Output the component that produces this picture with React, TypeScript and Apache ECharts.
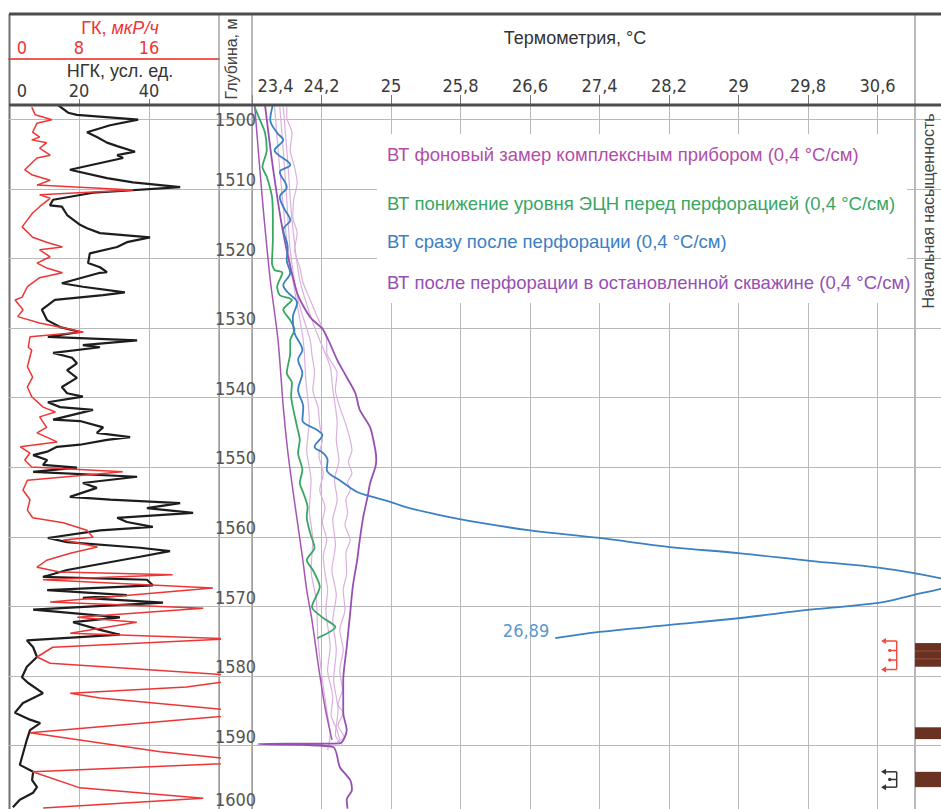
import React, { useEffect, useRef } from "react";
import * as echarts from "echarts";

// ---------- axes ----------
const DEPTH_TOP = 1497.99;
const DEPTH_BOTTOM = 1599.14;
const DEPTH_GRID = [1500, 1510, 1520, 1530, 1540, 1550, 1560, 1570, 1580, 1590];
const DEPTH_TICK_LABELS = [1500, 1510, 1520, 1530, 1540, 1550, 1560, 1570, 1580, 1590, 1600];
const NGK_MIN = 0, NGK_MAX = 60, NGK_STEP = 20;
const GK_MIN = 0, GK_MAX = 24, GK_STEP = 8;
const T_MIN = 23.4, T_MAX = 31.33, T_STEP = 0.8;

// ---------- legend / names ----------
const NAME_BG = "ВТ фоновый замер комплексным прибором (0,4 °C/см)";
const NAME_LOW = "ВТ понижение уровня ЭЦН перед перфорацией (0,4 °C/см)";
const NAME_AFTER = "ВТ сразу после перфорации (0,4 °C/см)";
const NAME_STOP = "ВТ после перфорации в остановленной скважине (0,4 °C/см)";

// ---------- logs: [depth, value] ----------
const NGK = [[1498.0,14.0],[1499.1,16.9],[1499.4,19.4],[1500.1,36.9],[1500.9,28.9],[1501.9,22.3],[1502.6,25.1],[1503.4,28.0],[1503.9,30.9],[1504.7,36.0],[1505.2,30.9],[1505.6,32.6],[1507.3,17.4],[1508.5,28.0],[1509.1,35.4],[1509.8,48.9],[1510.6,24.0],[1511.6,12.6],[1512.4,11.7],[1512.6,15.1],[1513.8,16.6],[1515.2,20.3],[1515.7,22.3],[1516.4,26.0],[1517.0,40.3],[1517.7,33.7],[1518.4,30.9],[1519.3,23.1],[1520.7,22.6],[1521.3,26.0],[1522.0,28.0],[1522.1,26.0],[1523.6,15.1],[1524.1,21.1],[1524.9,33.1],[1525.3,26.9],[1526.0,13.1],[1527.4,9.4],[1528.9,10.9],[1529.9,14.6],[1530.6,20.3],[1531.3,11.1],[1531.8,36.6],[1532.5,21.1],[1532.8,26.0],[1533.6,12.6],[1534.3,18.0],[1535.1,19.4],[1536.1,16.6],[1537.2,19.4],[1538.5,15.1],[1539.4,16.6],[1539.9,21.1],[1540.7,11.1],[1541.4,14.6],[1541.8,24.0],[1543.2,12.6],[1543.4,20.3],[1544.3,26.9],[1545.1,25.1],[1545.7,34.6],[1546.1,28.0],[1546.8,20.3],[1547.1,13.7],[1547.8,10.9],[1548.3,6.9],[1549.0,10.9],[1549.7,9.7],[1550.1,19.4],[1550.7,6.9],[1551.4,36.6],[1552.3,21.1],[1553.0,25.1],[1554.3,17.4],[1554.7,28.9],[1555.2,48.9],[1555.9,39.4],[1556.6,52.6],[1557.3,30.9],[1557.9,33.7],[1558.6,41.1],[1559.1,26.0],[1560.2,11.1],[1560.8,16.6],[1561.6,37.4],[1562.1,46.0],[1562.9,37.4],[1564.8,16.6],[1565.8,9.7],[1566.2,39.4],[1567.0,41.1],[1567.7,10.9],[1568.4,33.7],[1568.8,21.1],[1569.5,44.0],[1570.5,6.9],[1571.6,31.7],[1572.3,18.3],[1573.4,26.0],[1574.1,31.7],[1574.9,5.1],[1575.9,6.9],[1577.3,8.0],[1578.7,5.1],[1580.2,3.7],[1581.0,5.4],[1582.5,9.7],[1583.9,4.0],[1585.3,1.7],[1586.3,6.0],[1586.8,8.9],[1587.8,6.0],[1589.2,5.1],[1591.7,3.7],[1592.8,3.1],[1593.8,6.9],[1595.0,6.6],[1596.0,8.0],[1596.8,6.9],[1597.8,3.1],[1598.9,1.1]];

const GK = [[1498.3,2.6],[1499.4,3.0],[1500.1,4.9],[1500.6,3.2],[1501.9,2.7],[1502.6,3.5],[1503.0,2.6],[1503.4,4.3],[1504.2,3.5],[1505.2,4.7],[1505.6,3.2],[1507.3,1.8],[1508.0,2.6],[1508.8,4.7],[1509.5,3.2],[1510.2,14.2],[1510.9,3.5],[1511.4,4.7],[1512.6,3.5],[1513.5,2.7],[1514.5,2.1],[1515.5,1.5],[1517.0,2.7],[1517.7,4.3],[1518.4,6.1],[1518.8,3.5],[1519.8,4.7],[1520.7,3.2],[1521.4,4.3],[1522.1,6.1],[1522.8,3.5],[1524.1,2.1],[1525.6,1.5],[1526.0,0.7],[1527.4,1.6],[1528.4,1.0],[1529.3,3.5],[1530.6,8.5],[1531.3,2.4],[1532.8,2.2],[1533.2,2.6],[1535.6,2.1],[1537.1,2.7],[1538.5,2.1],[1539.9,2.6],[1541.4,3.9],[1542.1,5.3],[1542.8,3.5],[1544.3,4.3],[1545.1,3.2],[1546.4,5.5],[1547.1,1.3],[1548.0,2.4],[1549.0,1.8],[1550.0,2.6],[1550.7,13.0],[1551.9,2.1],[1553.3,1.6],[1554.7,2.4],[1556.2,2.1],[1557.3,2.7],[1558.0,6.2],[1559.1,8.9],[1560.1,9.6],[1560.5,6.2],[1561.5,10.1],[1562.4,7.0],[1563.4,4.3],[1564.4,3.2],[1565.1,5.8],[1565.5,18.7],[1566.2,3.9],[1567.4,23.3],[1569.4,4.7],[1570.3,22.2],[1571.6,7.8],[1572.3,14.6],[1573.9,7.0],[1574.7,25.3],[1575.9,5.0],[1577.3,3.2],[1578.2,4.7],[1580.2,28.7],[1581.6,20.3],[1582.5,7.0],[1583.2,10.4],[1585.3,28.3],[1585.9,23.8],[1588.2,2.4],[1590.9,17.3],[1592.4,28.7],[1593.8,2.7],[1596.1,8.1],[1597.6,22.2],[1599.0,3.9]];

// ---------- temperature: [depth, °C] ----------
const T_BG_A = [[1498.0,23.43],[1511.6,23.52],[1523.1,23.61],[1531.8,23.70],[1541.4,23.76],[1547.6,23.81],[1553.3,23.87],[1562.9,23.98],[1567.7,24.03],[1572.0,24.09],[1578.2,24.16],[1584.5,24.24],[1589.2,24.32]];
const T_BG_1 = [[1498.3,23.80],[1499.7,23.80],[1502.0,23.86],[1504.5,23.84],[1506.9,23.89],[1509.2,23.92],[1511.6,23.88],[1514.1,23.87],[1516.4,23.92],[1518.8,23.89],[1521.3,23.95],[1523.6,23.99],[1526.0,24.07],[1528.4,24.15],[1531.8,24.26],[1533.6,24.26],[1536.5,24.38],[1538.9,24.36],[1541.4,24.41],[1542.8,24.45],[1544.3,24.49],[1546.1,24.53],[1547.6,24.55],[1549.3,24.51],[1550.9,24.55],[1552.2,24.50],[1553.3,24.53],[1554.7,24.48],[1556.6,24.50],[1558.3,24.47],[1560.5,24.53],[1562.4,24.48],[1565.2,24.49],[1567.7,24.45],[1570.5,24.47],[1573.4,24.41],[1576.3,24.45],[1579.2,24.41],[1582.0,24.44],[1584.2,24.39],[1585.3,24.45],[1587.1,24.39],[1588.8,24.46],[1589.5,24.38]];
const T_BG_2 = [[1498.3,23.72],[1504.5,23.76],[1511.6,23.80],[1518.8,23.84],[1526.0,23.93],[1531.8,24.07],[1533.9,24.09],[1536.5,24.12],[1538.9,24.10],[1541.4,24.16],[1544.0,24.18],[1546.1,24.21],[1548.3,24.17],[1550.9,24.22],[1553.3,24.18],[1555.8,24.24],[1557.9,24.21],[1560.5,24.26],[1562.9,24.22],[1565.2,24.24],[1567.7,24.27],[1570.5,24.25],[1575.9,24.30],[1579.2,24.27],[1583.1,24.33],[1585.6,24.31],[1587.5,24.37],[1589.2,24.41]];
const T_BG_3 = [[1498.3,23.76],[1505.9,23.81],[1514.5,23.86],[1523.1,23.95],[1528.9,24.09],[1531.8,24.18],[1535.6,24.30],[1538.9,24.33],[1543.7,24.38],[1546.1,24.37],[1549.0,24.40],[1551.9,24.35],[1554.7,24.38],[1557.6,24.33],[1561.2,24.36],[1564.8,24.32],[1568.4,24.37],[1572.0,24.33],[1576.3,24.37],[1580.6,24.34],[1584.9,24.39],[1588.5,24.36],[1589.9,24.44]];
const T_BG_4 = [[1498.3,23.66],[1507.3,23.72],[1517.4,23.80],[1524.6,23.89],[1531.8,23.99],[1537.5,24.02],[1543.2,24.06],[1547.6,24.03],[1551.9,24.08],[1556.2,24.06],[1560.5,24.10],[1564.8,24.08],[1569.1,24.14],[1574.9,24.16],[1580.6,24.21],[1584.9,24.26],[1588.5,24.30],[1590.7,24.27]];
const T_STOP = [[1498.0,23.55],[1506.9,23.64],[1516.4,23.76],[1525.0,23.92],[1528.5,24.07],[1530.3,24.22],[1534.6,24.38],[1537.1,24.49],[1539.4,24.59],[1541.8,24.64],[1544.3,24.76],[1547.6,24.82],[1549.0,24.83],[1550.0,24.82],[1552.3,24.76],[1554.3,24.73],[1557.2,24.68],[1560.5,24.64],[1563.4,24.61],[1567.2,24.56],[1571.0,24.53],[1575.9,24.49],[1580.6,24.45],[1585.3,24.45],[1587.8,24.49],[1589.7,24.41],[1589.8,23.47],[1590.2,24.33],[1593.1,24.41],[1595.0,24.53],[1596.4,24.55],[1597.8,24.49],[1599.1,24.50]];
const T_LOW = [[1498.3,23.43],[1500.1,23.49],[1502.0,23.55],[1504.5,23.57],[1506.9,23.52],[1508.3,23.57],[1511.2,23.63],[1514.1,23.64],[1517.4,23.64],[1520.7,23.63],[1521.7,23.66],[1522.1,23.75],[1524.1,23.69],[1525.3,23.72],[1526.0,23.86],[1527.4,23.76],[1528.9,23.84],[1530.3,23.89],[1531.8,23.84],[1533.6,23.84],[1536.5,23.80],[1537.9,23.86],[1539.8,23.85],[1541.4,23.87],[1544.3,23.92],[1546.1,23.95],[1548.0,23.93],[1550.4,23.98],[1552.3,23.95],[1553.7,23.99],[1555.8,24.04],[1557.2,24.03],[1559.5,24.07],[1561.6,24.12],[1563.4,24.03],[1564.8,24.10],[1567.2,24.18],[1570.1,24.09],[1571.6,24.21],[1573.0,24.36],[1574.6,24.15]];
const T_AFTER = [[1498.0,23.64],[1500.1,23.61],[1502.0,23.69],[1503.0,23.76],[1504.5,23.66],[1506.6,23.84],[1507.6,23.72],[1509.8,23.80],[1511.2,23.72],[1513.1,23.78],[1514.5,23.84],[1515.9,23.76],[1518.4,23.81],[1520.3,23.80],[1522.1,23.84],[1523.9,23.76],[1524.9,23.81],[1526.4,23.92],[1528.5,23.87],[1530.8,23.89],[1533.2,23.98],[1534.6,23.93],[1536.5,23.98],[1538.9,23.93],[1541.4,23.99],[1543.3,23.98],[1544.7,24.15],[1545.4,24.21],[1547.1,24.12],[1548.0,24.22],[1549.0,24.27],[1550.4,24.26],[1551.9,24.41],[1553.6,24.61],[1554.3,24.79],[1555.0,24.99],[1555.8,25.18],[1556.9,25.56],[1558.0,26.02],[1559.1,26.60],[1560.2,27.40],[1561.5,28.21],[1562.4,29.02],[1563.5,29.82],[1564.5,30.63],[1566.0,31.33],[1566.8,31.52],[1567.5,31.33],[1568.4,31.01],[1569.5,30.63],[1570.5,29.82],[1571.7,29.02],[1572.7,28.21],[1573.7,27.40],[1574.6,26.89]];
const T_AFTER_END = [26.89, 1574.6];

// ---------- perforation & saturation intervals: [top, bottom] ----------
const PERF_INTERVALS = [[1575.0, 1579.1], [1593.8, 1596.0]];
const SAT_INTERVALS = [[1575.3, 1578.7], [1587.4, 1589.1], [1593.8, 1596.0]];

// ---------- styles ----------
const F_NARROW = "'Liberation Sans Narrow','Arial Narrow','DejaVu Sans Condensed',sans-serif";
const F_TEXT = "'Liberation Sans',Arial,sans-serif";
const C_GRID = "#b9b9b9";
const C_BORDER = "#8a8a8a";
const C_RED = "#ee3535";
const C_BG = "#b14fa7";
const C_LIGHT = "#dbb0de";
const C_LOW = "#38a763";
const C_AFTER = "#3b80c3";
const C_STOP = "#9650b3";
const PERF_COLORS = ["#f04b3f", "#333333"];

const toXY = (arr: number[][]) => arr.map(([d, v]) => [v, d]);
const fmtTemp = (v: number) => {
  let s = (Math.round(v * 100) / 100).toFixed(2);
  if (s.endsWith("0")) s = s.slice(0, -1);
  if (s.endsWith(".0")) s = s.slice(0, -2);
  return s.replace(".", ",");
};

function text(t: string, x: number, y: number, o: any = {}) {
  return {
    type: "text",
    x,
    y,
    z: o.z ?? 11,
    rotation: o.rotation || 0,
    style: {
      text: t,
      fill: o.fill || "#3c3c3c",
      fontSize: o.size || 18,
      fontFamily: o.family || F_TEXT,
      lineHeight: o.lineHeight || (o.size || 18),
      align: o.align || "center",
      verticalAlign: "middle",
      textAlign: o.align || "center",
      textVerticalAlign: "middle",
      rich: o.rich,
    },
  };
}
function vline(x: number, y1: number, y2: number, color: string, w: number, z = 1) {
  return { type: "line", z, silent: true, shape: { x1: x, y1, x2: x, y2 }, style: { stroke: color, lineWidth: w } };
}
function hline(y: number, x1: number, x2: number, color: string, w: number, z = 1) {
  return { type: "line", z, silent: true, shape: { x1, y1: y, x2, y2: y }, style: { stroke: color, lineWidth: w } };
}

function buildOption(): any {
  const yAxis = [0, 1, 2, 3].map((g) => ({
    gridIndex: g, type: "value", inverse: true, min: DEPTH_TOP, max: DEPTH_BOTTOM, show: false,
  }));
  const grid = [
    { left: 9, top: 105, width: 210, height: 704 },
    { left: 219, top: 105, width: 33, height: 704 },
    { left: 252, top: 105, width: 689, height: 704 },
    { left: 915, top: 105, width: 26, height: 704 },
  ].map((g) => ({ ...g, containLabel: false, outerBoundsMode: "none" }));

  const lblBase = { fontSize: 18, fontFamily: F_NARROW, lineHeight: 16 };
  const xAxis = [
    {
      gridIndex: 0, type: "value", min: NGK_MIN, max: NGK_MAX, interval: NGK_STEP, position: "top",
      axisLine: { show: false },
      axisTick: { show: true, length: 6, lineStyle: { color: "#777" } },
      axisLabel: {
        ...lblBase, color: "#3a3a3a", margin: 7, showMinLabel: true, showMaxLabel: false,
        formatter: (v: number, i: number) => (i === 0 ? `{f|${v}}` : String(v)),
        rich: { f: { ...lblBase, color: "#3a3a3a", padding: [0, 0, 0, 26] } },
      },
      splitLine: { show: true, lineStyle: { color: C_GRID, width: 1 } },
    },
    {
      gridIndex: 0, type: "value", min: GK_MIN, max: GK_MAX, interval: GK_STEP, position: "top", offset: 46,
      axisLine: { show: true, lineStyle: { color: "#f25a55", width: 2 } },
      axisTick: { show: false },
      axisLabel: {
        ...lblBase, color: C_RED, margin: 4, showMinLabel: true, showMaxLabel: false,
        formatter: (v: number, i: number) => (i === 0 ? `{f|${v}}` : String(v)),
        rich: { f: { ...lblBase, color: C_RED, padding: [0, 0, 0, 26] } },
      },
      splitLine: { show: false },
    },
    { gridIndex: 1, type: "value", min: 0, max: 1, show: false },
    {
      gridIndex: 2, type: "value", min: T_MIN, max: T_MAX, interval: T_STEP, position: "top",
      axisLine: { show: false },
      axisTick: { show: true, length: 10, lineStyle: { color: "#777" } },
      axisLabel: {
        ...lblBase, color: "#3a3a3a", margin: 12, showMinLabel: true, showMaxLabel: false,
        formatter: (v: number, i: number) => (i === 0 ? `{f|${fmtTemp(v)}}` : fmtTemp(v)),
        rich: { f: { ...lblBase, color: "#3a3a3a", padding: [0, 0, 0, 47] } },
      },
      splitLine: { show: true, lineStyle: { color: C_GRID, width: 1 } },
    },
    { gridIndex: 3, type: "value", min: 0, max: 1, show: false },
  ];

  const tLine = (name: string, data: number[][], color: string, width: number, extra: any = {}) => ({
    type: "line", name, xAxisIndex: 3, yAxisIndex: 2, data: toXY(data),
    showSymbol: false, symbol: "none", smooth: 0.25, silent: true,
    lineStyle: { color, width }, itemStyle: { color }, ...extra,
  });

  const series: any[] = [
    // horizontal depth grid lines across all tracks
    {
      type: "custom", xAxisIndex: 0, yAxisIndex: 0, z: 1, silent: true,
      data: DEPTH_GRID.map((d) => [0, d]),
      renderItem: (params: any, api: any) => {
        const y = Math.round(api.coord([0, api.value(1)])[1]) + 0.5;
        return { type: "line", shape: { x1: 9, y1: y, x2: api.getWidth(), y2: y }, style: { stroke: C_GRID, lineWidth: 1 } };
      },
    },
    {
      type: "line", name: "НГК", xAxisIndex: 0, yAxisIndex: 0, data: toXY(NGK),
      showSymbol: false, symbol: "none", silent: true,
      lineStyle: { color: "#1d1d1d", width: 2.2 },
    },
    {
      type: "line", name: "ГК", xAxisIndex: 1, yAxisIndex: 0, data: toXY(GK),
      showSymbol: false, symbol: "none", silent: true, clip: false,
      lineStyle: { color: C_RED, width: 1.5 },
    },
    // depth labels
    {
      type: "custom", xAxisIndex: 2, yAxisIndex: 1, z: 3, silent: true, clip: false,
      data: DEPTH_TICK_LABELS.map((d) => [0.5, d]),
      renderItem: (params: any, api: any) => {
        const d = api.value(1);
        const p = api.coord([0.5, d]);
        const y = d === DEPTH_TICK_LABELS[0] ? p[1] + 1 : Math.min(p[1] - 9, api.getHeight() - 10);
        return {
          type: "text", x: p[0], y,
          style: {
            text: String(d), fill: "#555", fontSize: 18, fontFamily: F_NARROW,
            align: "center", verticalAlign: "middle", textAlign: "center", textVerticalAlign: "middle",
          },
        };
      },
    },
    tLine(NAME_BG, T_BG_1, C_LIGHT, 1.2),
    tLine(NAME_BG, T_BG_2, C_LIGHT, 1.2),
    tLine(NAME_BG, T_BG_3, C_LIGHT, 1.2),
    tLine(NAME_BG, T_BG_4, C_LIGHT, 1.2),
    tLine(NAME_BG, T_BG_A, "#a456b4", 1.5),
    tLine(NAME_STOP, T_STOP, C_STOP, 1.8),
    tLine(NAME_LOW, T_LOW, C_LOW, 1.8),
    tLine(NAME_AFTER, T_AFTER, C_AFTER, 1.8, {
      smooth: 0.35,
      markPoint: {
        silent: true, symbol: "circle", symbolSize: 0,
        data: [{ coord: T_AFTER_END, value: T_AFTER_END[0] }],
        label: {
          show: true, position: "left", distance: 6, offset: [0, -8],
          formatter: (p: any) => fmtTemp(p.value),
          color: "#5b97cf", fontSize: 18, fontFamily: F_NARROW,
        },
      },
    }),
    // perforation symbols
    {
      type: "custom", xAxisIndex: 3, yAxisIndex: 2, z: 4, silent: true,
      data: PERF_INTERVALS,
      renderItem: (params: any, api: any) => {
        const top = api.value(0), bot = api.value(1);
        const xr = api.coord([30.82, top])[0];
        const xl = api.coord([30.64, top])[0];
        const yt = api.coord([30.82, top])[1];
        const yb = api.coord([30.82, bot])[1];
        const c = PERF_COLORS[params.dataIndex % PERF_COLORS.length];
        const st = { stroke: c, lineWidth: 1.5 };
        const ch: any[] = [
          { type: "line", shape: { x1: xr, y1: yt, x2: xr, y2: yb }, style: st },
          { type: "line", shape: { x1: xl + 3, y1: yt, x2: xr, y2: yt }, style: st },
          { type: "line", shape: { x1: xl + 3, y1: yb, x2: xr, y2: yb }, style: st },
          { type: "polygon", shape: { points: [[xl, yt], [xl + 5, yt - 3], [xl + 5, yt + 3]] }, style: { fill: c } },
          { type: "polygon", shape: { points: [[xl, yb], [xl + 5, yb - 3], [xl + 5, yb + 3]] }, style: { fill: c } },
        ];
        const n = Math.max(1, Math.floor((yb - yt) / 11));
        for (let i = 1; i <= n; i++) {
          const y = yt + ((yb - yt) * i) / (n + 1);
          ch.push({ type: "line", shape: { x1: xr - 7, y1: y, x2: xr, y2: y }, style: st });
          ch.push({ type: "circle", shape: { cx: xr - 7, cy: y, r: 1.6 }, style: { fill: c } });
        }
        return { type: "group", children: ch };
      },
    },
    // saturation bars
    {
      type: "custom", xAxisIndex: 4, yAxisIndex: 3, z: 4, silent: true,
      data: SAT_INTERVALS,
      renderItem: (params: any, api: any) => {
        const cs = params.coordSys;
        const yt = api.coord([0, api.value(0)])[1];
        const yb = api.coord([0, api.value(1)])[1];
        const ch: any[] = [
          { type: "rect", shape: { x: cs.x, y: yt, width: cs.width, height: yb - yt }, style: { fill: "#6b3122" } },
        ];
        if (yb - yt > 20) {
          [1, 2].forEach((k) => {
            const y = yt + ((yb - yt) * k) / 3;
            ch.push({ type: "line", shape: { x1: cs.x, y1: y, x2: cs.x + cs.width, y2: y }, style: { stroke: "#94513f", lineWidth: 1 } });
          });
        }
        return { type: "group", children: ch };
      },
    },
  ];

  const elements: any[] = [
    // track borders
    vline(9.5, 14, 809, "#707070", 2),
    vline(219, 14, 809, C_BORDER, 1.2),
    vline(252, 14, 809, C_BORDER, 1.2),
    vline(915, 14, 809, C_BORDER, 1.2),
    hline(14, 9, 941, "#4d4d4d", 3, 20),
    hline(105, 9, 941, "#4d4d4d", 3, 20),
    // header titles
    text("{a|ГК, }{b|мкР/ч}", 120, 28, {
      fill: C_RED,
      rich: {
        a: { fontSize: 18, fontFamily: F_TEXT, fill: C_RED, color: C_RED, lineHeight: 18 },
        b: { fontSize: 18, fontFamily: F_TEXT, fill: C_RED, color: C_RED, fontStyle: "italic", lineHeight: 18 },
      },
    }),
    text("НГК, усл. ед.", 120, 71, { fill: "#333", lineHeight: 17 }),
    text("Глубина, м", 231, 59, { rotation: Math.PI / 2, size: 16, fill: "#444" }),
    text("Термометрия, °C", 575, 38, { fill: "#333" }),
    text("Начальная насыщенность", 928, 211, { rotation: Math.PI / 2, size: 16, fill: "#444" }),
    // legend box
    { type: "rect", z: 10, silent: true, shape: { x: 377, y: 134, width: 530, height: 169 }, style: { fill: "#ffffff" } },
    text(NAME_BG, 387, 154, { align: "left", fill: C_BG, size: 18.5 }),
    text(NAME_LOW, 387, 203, { align: "left", fill: C_LOW, size: 18.5 }),
    text(NAME_AFTER, 387, 241, { align: "left", fill: C_AFTER, size: 18.5 }),
    text(NAME_STOP, 387, 282, { align: "left", fill: C_STOP, size: 18.5 }),
  ];

  return {
    animation: false,
    backgroundColor: "#ffffff",
    grid,
    xAxis,
    yAxis,
    series,
    graphic: { elements },
  };
}

export default function App() {
  const ref = useRef<HTMLDivElement>(null);
  useEffect(() => {
    if (!ref.current) return;
    const chart = echarts.init(ref.current, null, { renderer: "svg" });
    chart.setOption(buildOption());
    return () => chart.dispose();
  }, []);
  return <div ref={ref} style={{ position: "absolute", left: 0, top: 0, width: 941, height: 809 }} />;
}
